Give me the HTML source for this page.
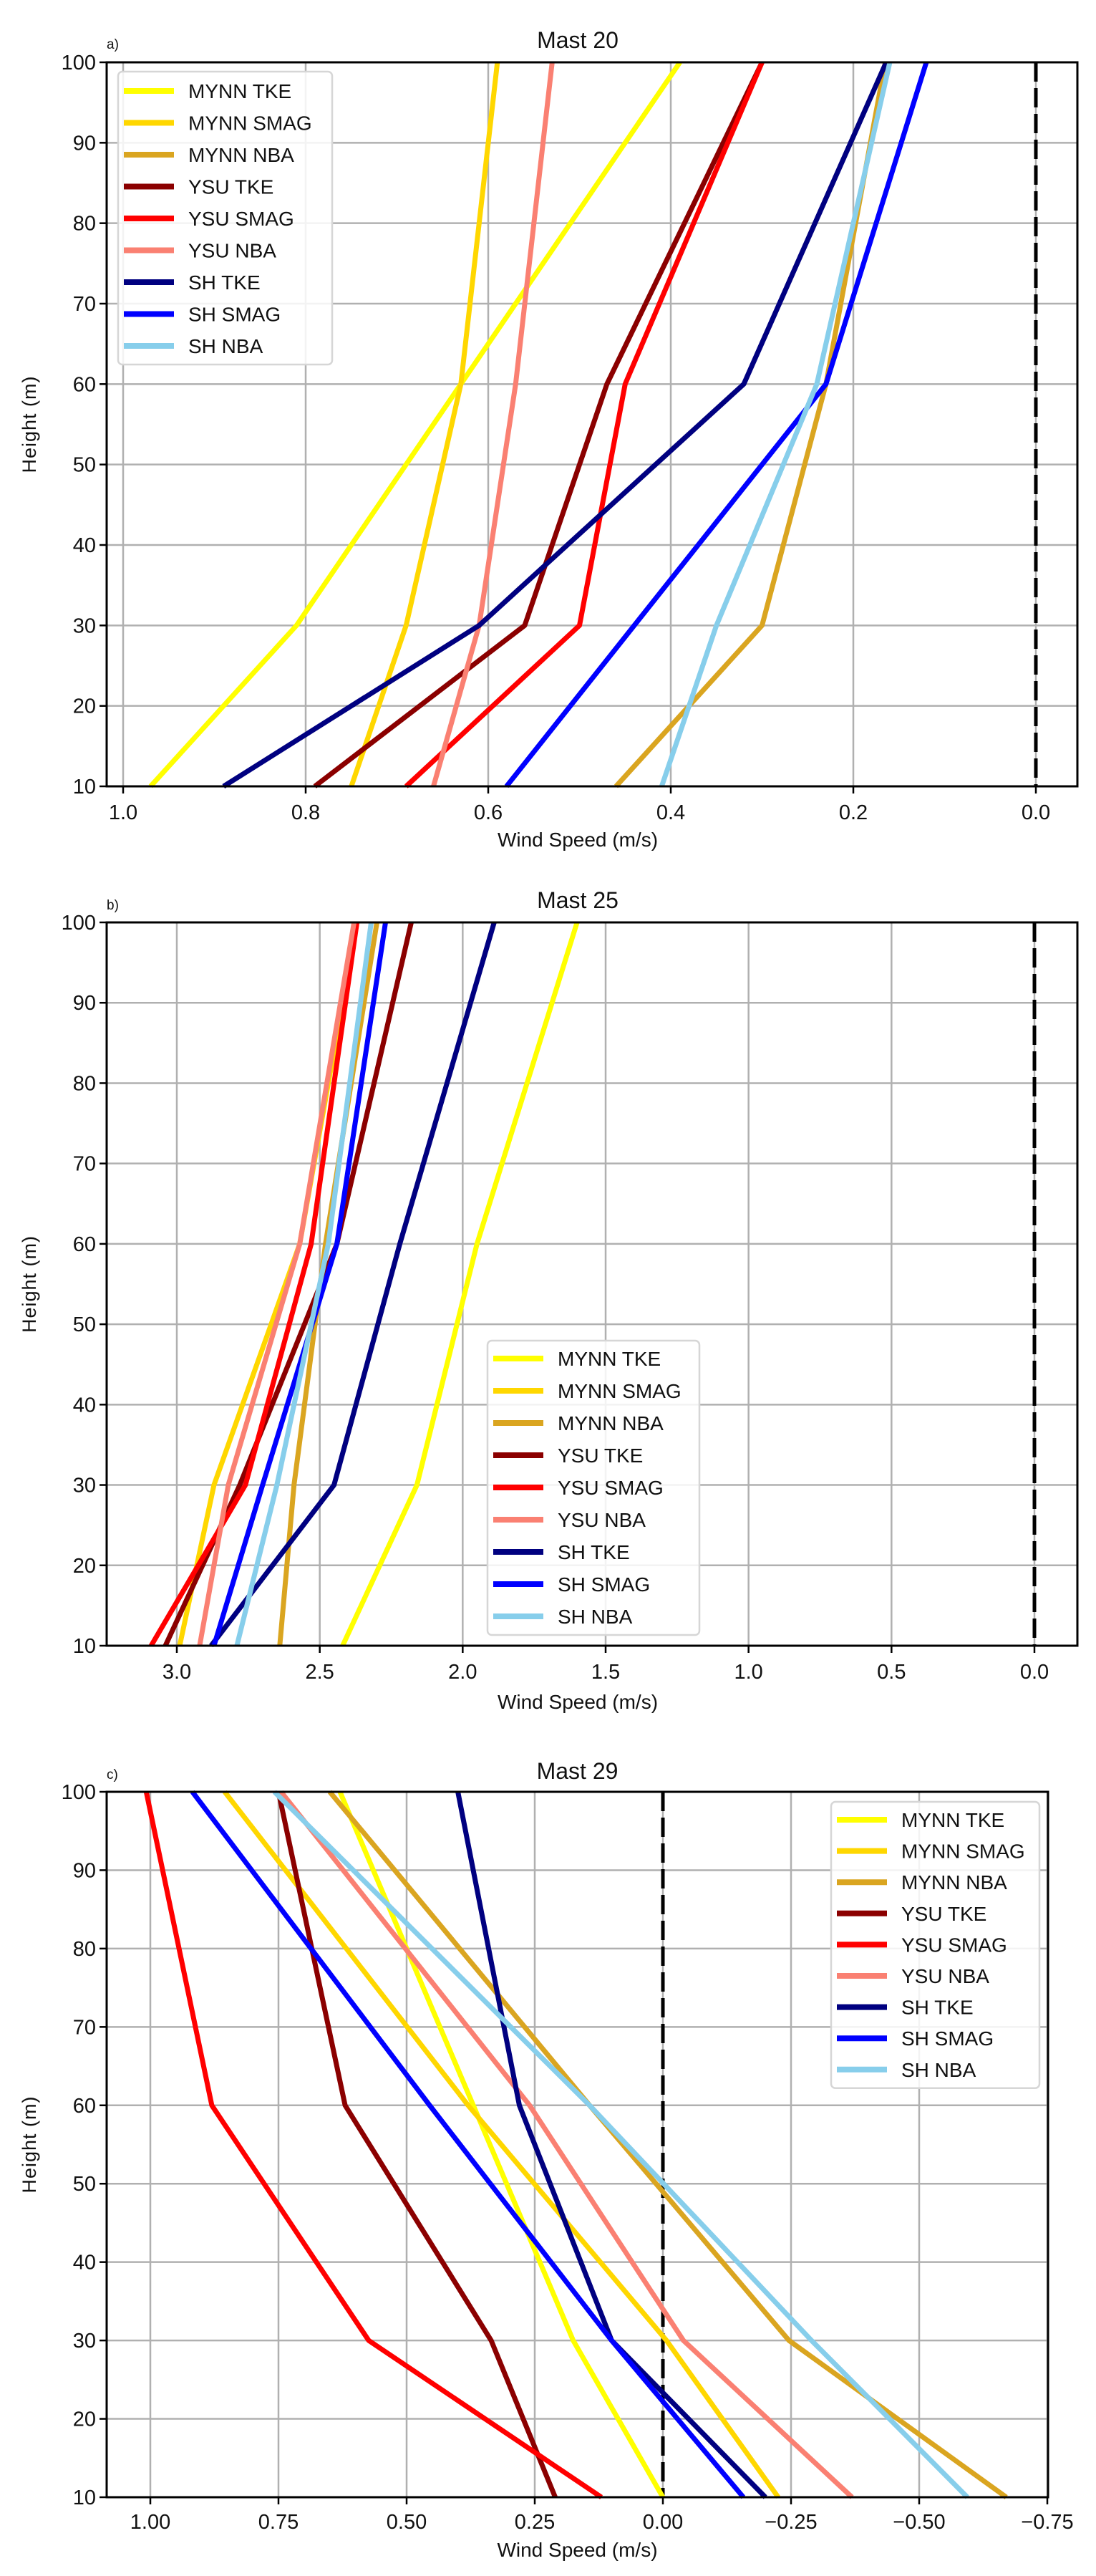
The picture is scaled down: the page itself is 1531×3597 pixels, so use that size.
<!DOCTYPE html>
<html><head><meta charset="utf-8">
<style>
html,body{margin:0;padding:0;background:#fff;}
svg{display:block;font-family:"Liberation Sans","DejaVu Sans",sans-serif;}
</style></head>
<body>
<svg id="fig" width="1531" height="3597" viewBox="0 0 1531 3597" xmlns="http://www.w3.org/2000/svg"></svg>
<script>
// ---- shared data ----
const seriesNames = ["MYNN TKE","MYNN SMAG","MYNN NBA","YSU TKE","YSU SMAG","YSU NBA","SH TKE","SH SMAG","SH NBA"];
const seriesColors = ["#ffff00","#ffd700","#daa520","#8b0000","#ff0000","#fa8072","#000080","#0000ff","#87ceeb"];
const heights = [10,30,60,100];
const yTicks = [10,20,30,40,50,60,70,80,90,100];

// ---- panel a (Mast 20) ----
const mast20Ticks = [1.0,0.8,0.6,0.4,0.2,0.0];
const mast20TickLabels = ["1.0","0.8","0.6","0.4","0.2","0.0"];
const mast20_MYNN_TKE  = [0.97,0.81,0.63,0.39];
const mast20_MYNN_SMAG = [0.75,0.69,0.63,0.59];
const mast20_MYNN_NBA  = [0.46,0.30,0.23,0.165];
const mast20_YSU_TKE   = [0.79,0.56,0.47,0.30];
const mast20_YSU_SMAG  = [0.69,0.50,0.45,0.30];
const mast20_YSU_NBA   = [0.66,0.61,0.57,0.53];
const mast20_SH_TKE    = [0.89,0.61,0.32,0.164];
const mast20_SH_SMAG   = [0.58,0.44,0.23,0.12];
const mast20_SH_NBA    = [0.41,0.35,0.24,0.16];

// ---- panel b (Mast 25) ----
const mast25Ticks = [3.0,2.5,2.0,1.5,1.0,0.5,0.0];
const mast25TickLabels = ["3.0","2.5","2.0","1.5","1.0","0.5","0.0"];
const mast25_MYNN_TKE  = [2.42,2.16,1.95,1.60];
const mast25_MYNN_SMAG = [2.99,2.87,2.57,2.37];
const mast25_MYNN_NBA  = [2.64,2.59,2.48,2.30];
const mast25_YSU_TKE   = [3.04,2.78,2.44,2.18];
const mast25_YSU_SMAG  = [3.09,2.76,2.53,2.37];
const mast25_YSU_NBA   = [2.92,2.82,2.57,2.38];
const mast25_SH_TKE    = [2.88,2.45,2.22,1.89];
const mast25_SH_SMAG   = [2.87,2.70,2.44,2.27];
const mast25_SH_NBA    = [2.79,2.65,2.47,2.32];

// ---- panel c (Mast 29) ----
const mast29Ticks = [1.0,0.75,0.5,0.25,0.0,-0.25,-0.5,-0.75];
const mast29TickLabels = ["1.00","0.75","0.50","0.25","0.00","\u22120.25","\u22120.50","\u22120.75"];
const mast29_MYNN_TKE  = [0.0,0.175,0.37,0.63];
const mast29_MYNN_SMAG = [-0.225,-0.007,0.38,0.855];
const mast29_MYNN_NBA  = [-0.67,-0.246,0.143,0.65];
const mast29_YSU_TKE   = [0.21,0.335,0.62,0.75];
const mast29_YSU_SMAG  = [0.12,0.574,0.88,1.008];
const mast29_YSU_NBA   = [-0.369,-0.04,0.26,0.745];
const mast29_SH_TKE    = [-0.2,0.10,0.28,0.40];
const mast29_SH_SMAG   = [-0.157,0.10,0.455,0.918];
const mast29_SH_NBA    = [-0.594,-0.29,0.143,0.758];

const NS = "http://www.w3.org/2000/svg";
const svg = document.getElementById("fig");
function mk(tag, attrs, parent){
  const e = document.createElementNS(NS, tag);
  for (const k in attrs) e.setAttribute(k, attrs[k]);
  (parent||svg).appendChild(e);
  return e;
}

const panels = [
  {id:"a", title:"Mast 20", L:149, R:1505, T:87, B:1098, xv0:1.0, xp0:172, xv1:0.0, xp1:1447,
   ticks:mast20Ticks, labels:mast20TickLabels, tickY:1144, xlabY:1182, titleY:67, tagY:68,
   data:[mast20_MYNN_TKE,mast20_MYNN_SMAG,mast20_MYNN_NBA,mast20_YSU_TKE,mast20_YSU_SMAG,mast20_YSU_NBA,mast20_SH_TKE,mast20_SH_SMAG,mast20_SH_NBA],
   leg:{x:165,y:100,w:299,first:127,step:44.5}},
  {id:"b", title:"Mast 25", L:149, R:1505, T:1288, B:2298, xv0:3.0, xp0:247, xv1:0.0, xp1:1445,
   ticks:mast25Ticks, labels:mast25TickLabels, tickY:2344, xlabY:2386, titleY:1268, tagY:1270,
   data:[mast25_MYNN_TKE,mast25_MYNN_SMAG,mast25_MYNN_NBA,mast25_YSU_TKE,mast25_YSU_SMAG,mast25_YSU_NBA,mast25_SH_TKE,mast25_SH_SMAG,mast25_SH_NBA],
   leg:{x:681,y:1872,w:296,first:1897,step:45}},
  {id:"c", title:"Mast 29", L:149, R:1464, T:2502, B:3487, xv0:-0.5, xp0:1284, xv1:-0.75, xp1:1463,
   ticks:mast29Ticks, labels:mast29TickLabels, tickY:3531, xlabY:3570, titleY:2484, tagY:2484,
   data:[mast29_MYNN_TKE,mast29_MYNN_SMAG,mast29_MYNN_NBA,mast29_YSU_TKE,mast29_YSU_SMAG,mast29_YSU_NBA,mast29_SH_TKE,mast29_SH_SMAG,mast29_SH_NBA],
   leg:{x:1161,y:2516,w:291,first:2541,step:43.6}}
];

panels.forEach(p => {
  const g = mk("g", {});
  
  
  const sx = v => p.xp0 + (v - p.xv0) * (p.xp1 - p.xp0) / (p.xv1 - p.xv0);
  const sy = h => p.B - (h - 10) * (p.B - p.T) / 90;

  // gridlines
  p.ticks.forEach(t => {
    const l = mk("line", {x1:sx(t), x2:sx(t), y1:p.T, y2:p.B, stroke:"#b0b0b0", "stroke-width":2.5}, g);
    
    
  });
  yTicks.forEach(t => {
    const l = mk("line", {x1:p.L, x2:p.R, y1:sy(t), y2:sy(t), stroke:"#b0b0b0", "stroke-width":2.5}, g);
    
    
  });
  // zero line
  const z = mk("line", {x1:sx(0), x2:sx(0), y1:p.T, y2:p.B, stroke:"#000", "stroke-width":5, "stroke-dasharray":"27 9"}, g);
  
  

  // series
  p.data.forEach((vals, i) => {
    const pts = vals.map((v, k) => sx(v).toFixed(1) + "," + sy(heights[k]).toFixed(1)).join(" ");
    const pl = mk("polyline", {points:pts, fill:"none", stroke:seriesColors[i], "stroke-width":7, "stroke-linejoin":"round"}, g);
    
    
  });

  // frame
  const fr = mk("rect", {x:p.L, y:p.T, width:p.R-p.L, height:p.B-p.T, fill:"none", stroke:"#000", "stroke-width":3}, g);
  
  

  // x ticks
  p.ticks.forEach((t, i) => {
    mk("line", {x1:sx(t), x2:sx(t), y1:p.B, y2:p.B+10, stroke:"#000", "stroke-width":2.5}, g);
    const tx = mk("text", {x:sx(t), y:p.tickY, "font-size":29, "text-anchor":"middle", fill:"#111"}, g);
    tx.textContent = p.labels[i];
    
    
  });
  // y ticks
  yTicks.forEach(t => {
    mk("line", {x1:p.L-10, x2:p.L, y1:sy(t), y2:sy(t), stroke:"#000", "stroke-width":2.5}, g);
    const ty = mk("text", {x:p.L-15, y:sy(t)+10, "font-size":29, "text-anchor":"end", fill:"#111"}, g);
    ty.textContent = t;
    
    
  });
  // axis labels
  const xl = mk("text", {x:(p.L+p.R)/2 + (p.id==="c"?0:-20), y:p.xlabY, "font-size":28, "text-anchor":"middle", fill:"#111"}, g);
  xl.textContent = "Wind Speed (m/s)";
  
  
  const cy = (p.T+p.B)/2;
  const yl = mk("text", {x:0, y:0, "font-size":27, "text-anchor":"middle", fill:"#111", "letter-spacing":"1", transform:"translate(50," + cy + ") rotate(-90)"}, g);
  yl.textContent = "Height (m)";
  
  
  // title and tag
  const tt = mk("text", {x:(p.L+p.R)/2 + (p.id==="c"?0:-20), y:p.titleY, "font-size":32, "text-anchor":"middle", fill:"#111"}, g);
  tt.textContent = p.title;
  
  
  const tg = mk("text", {x:p.L, y:p.tagY, "font-size":19, fill:"#111"}, g);
  tg.textContent = p.id + ")";
  
  

  // legend
  const lg = mk("g", {}, g);
  
  
  const lh = p.leg.first - p.leg.y + p.leg.step * 8 + 26;
  mk("rect", {x:p.leg.x, y:p.leg.y, width:p.leg.w, height:lh, rx:6, fill:"#fff", "fill-opacity":0.85, stroke:"#d6d6d6", "stroke-width":2.5}, lg);
  seriesNames.forEach((n, i) => {
    const yy = p.leg.first + i * p.leg.step;
    const e = mk("g", {}, lg);
    
    
    mk("line", {x1:p.leg.x+8, x2:p.leg.x+78, y1:yy, y2:yy, stroke:seriesColors[i], "stroke-width":8}, e);
    const t = mk("text", {x:p.leg.x+98, y:yy+10, "font-size":28, fill:"#111"}, e);
    t.textContent = n;
  });
});
</script>
</body></html>
